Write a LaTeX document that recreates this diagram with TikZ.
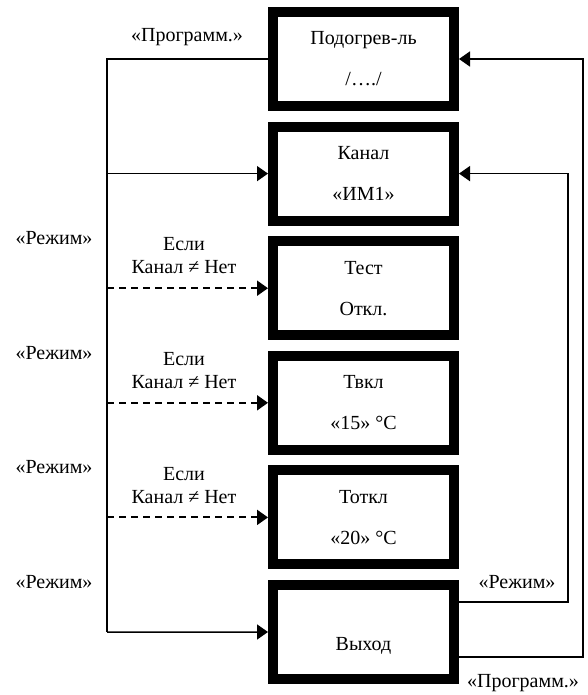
\documentclass[tikz,border=0pt]{standalone}
\usepackage{fontspec}
\setmainfont{Liberation Serif}
\usetikzlibrary{arrows.meta}

\begin{document}
\begin{tikzpicture}[x=1pt,y=-1pt,
  blk/.style={draw,line width=10pt,minimum width=181pt,minimum height=94pt,
    inner sep=0pt,align=center,font=\fontsize{20}{41}\selectfont},
  wire/.style={line width=1.5pt},
  lnk/.style={wire,-{Triangle[length=11pt,width=15pt]}},
  cond/.style={lnk,line width=2pt,dash pattern=on 7pt off 5pt},
  lbl/.style={font=\fontsize{20}{23}\selectfont,align=center}
]
\useasboundingbox (0,0) rectangle (587,695);
% menu boxes
\foreach \i/\txt in {1/{Подогрев-ль\\/…./},2/{Канал\\«ИМ1»},3/{Тест\\Откл.},
    4/{Твкл\\«15» °C},5/{Тоткл\\«20» °C},6/{\mbox{}\\Выход}}{
  \node[blk] (b\i) at (363.5,{59+114.6*(\i-1)}) {\txt};
}
% left trunk
\coordinate (tl) at (107,59);
\coordinate (bl) at (107,632);
\draw[wire] (b1.west) -- (tl) -- (bl);
\draw[lnk] (bl) -- (b6.west);
\draw[lnk] (b2.west -| tl) -- (b2.west);
\foreach \i in {3,4,5}{
  \draw[cond] (b\i.west -| tl) -- (b\i.west);
  \node[lbl] (c\i) at (184,{256+114.6*(\i-3)}) {Если\\Канал ≠ Нет};
  \node[lbl] (m\i) at (54,{238+114.6*(\i-3)}) {«Режим»};
}
\node[lbl] (m6) at (54,582) {«Режим»};
\node[lbl] (p1) at (187,37) {«Программ.»};
% right returns
\coordinate (r1) at (583,0);
\coordinate (r2) at (568,0);
\draw[lnk] ([yshift=-25pt]b6.east) -- ([yshift=-25pt]b6.east -| r1)
  -- (b1.east -| r1) -- (b1.east);
\draw[lnk] ([yshift=30pt]b6.east) -- ([yshift=30pt]b6.east -| r2)
  -- (b2.east -| r2) -- (b2.east);
\node[lbl] (m7) at (517,582) {«Режим»};
\node[lbl] (p2) at (523,683) {«Программ.»};
\end{tikzpicture}
\end{document}
